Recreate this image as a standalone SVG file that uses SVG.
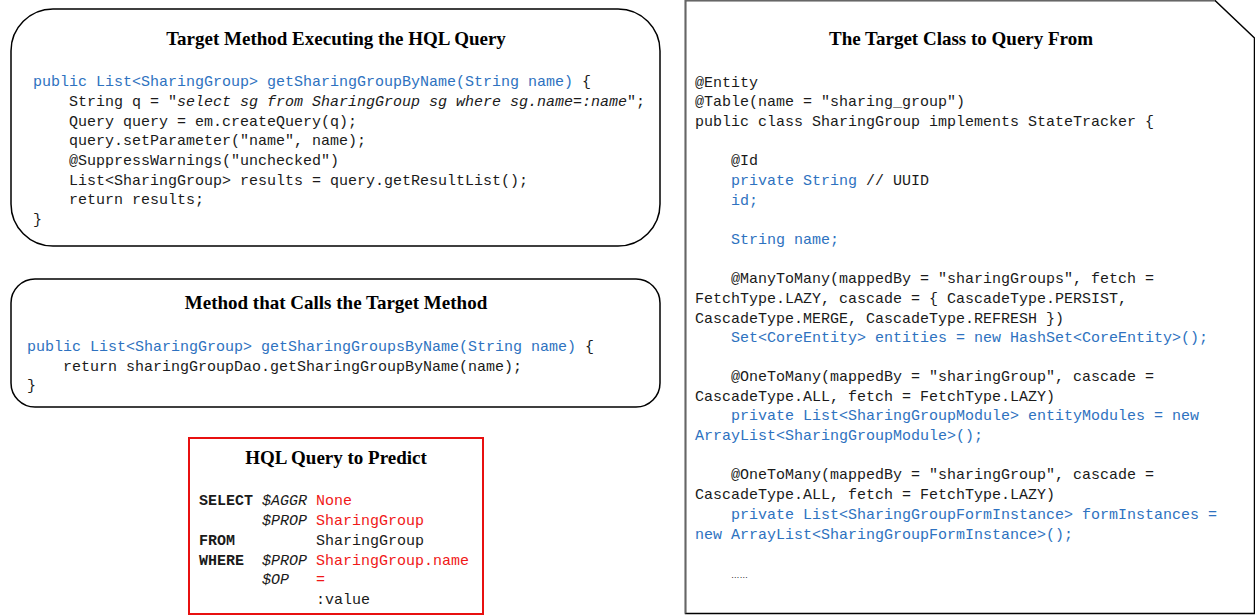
<svg xmlns="http://www.w3.org/2000/svg" width="1255" height="615" viewBox="0 0 1255 615">
<style>
.title{font-family:"Liberation Serif","Times New Roman",serif;font-weight:bold;font-size:19px;fill:#000;text-anchor:middle}
.code{font-family:"Liberation Mono","Courier New",monospace;font-size:15px;fill:#1a1a1a;white-space:pre}
.b{fill:#2e72c0}
.r{fill:#f01818}
.kw{font-weight:bold}
.it{font-style:italic}
.box{fill:#fff;stroke:#000;stroke-width:1.5}
</style>
<rect width="1255" height="615" fill="#fff"/>
<g id="target-method">
<rect class="box" x="11" y="9" width="649" height="237" rx="42" ry="42"/>
<text class="title" x="336" y="45">Target Method Executing the HQL Query</text>
<text class="code" xml:space="preserve" x="33" y="86"><tspan class="b">public List&lt;SharingGroup&gt; getSharingGroupByName(String name)</tspan> {</text>
<text class="code" xml:space="preserve" x="69" y="106">String q = "<tspan class="it">select sg from SharingGroup sg where sg.name=:name</tspan>";</text>
<text class="code" xml:space="preserve" x="69" y="125.5">Query query = em.createQuery(q);</text>
<text class="code" xml:space="preserve" x="69" y="145">query.setParameter("name", name);</text>
<text class="code" xml:space="preserve" x="69" y="165">@SuppressWarnings("unchecked")</text>
<text class="code" xml:space="preserve" x="69" y="185">List&lt;SharingGroup&gt; results = query.getResultList();</text>
<text class="code" xml:space="preserve" x="69" y="204">return results;</text>
<text class="code" xml:space="preserve" x="33" y="224">}</text>
</g>
<g id="calling-method">
<rect class="box" x="11" y="279" width="649" height="128" rx="24" ry="24"/>
<text class="title" x="336" y="309">Method that Calls the Target Method</text>
<text class="code" xml:space="preserve" x="27" y="351"><tspan class="b">public List&lt;SharingGroup&gt; getSharingGroupsByName(String name)</tspan> {</text>
<text class="code" xml:space="preserve" x="63" y="371">return sharingGroupDao.getSharingGroupByName(name);</text>
<text class="code" xml:space="preserve" x="27" y="390">}</text>
</g>
<g id="hql-query">
<rect x="189" y="438" width="294" height="176" fill="#fff" stroke="#e81010" stroke-width="2"/>
<text class="title" x="336" y="464">HQL Query to Predict</text>
<text class="code kw" x="199" y="505">SELECT</text>
<text class="code it" x="262" y="505">$AGGR</text>
<text class="code r" x="316" y="505">None</text>
<text class="code it" x="262" y="525">$PROP</text>
<text class="code r" x="316" y="525">SharingGroup</text>
<text class="code kw" x="199" y="545">FROM</text>
<text class="code" x="316" y="545">SharingGroup</text>
<text class="code kw" x="199" y="565">WHERE</text>
<text class="code it" x="262" y="565">$PROP</text>
<text class="code r" x="316" y="565">SharingGroup.name</text>
<text class="code it" x="262" y="584">$OP</text>
<text class="code r" x="316" y="584">=</text>
<text class="code" x="316" y="604">:value</text>
</g>
<g id="target-class">
<path d="M685.5,613.5 L685.5,0.5 L1215,0.5 L1254.5,38 L1254.5,613.5 Z" fill="#fff" stroke="#000" stroke-width="1.5"/>
<path d="M685.5,613.5 L685.5,0.5 L1215,0.5" fill="none" stroke="#666" stroke-width="1.5"/>
<text class="title" x="961" y="45">The Target Class to Query From</text>
<text class="code" xml:space="preserve" x="695" y="87">@Entity</text>
<text class="code" xml:space="preserve" x="695" y="106">@Table(name = "sharing_group")</text>
<text class="code" xml:space="preserve" x="695" y="126">public class SharingGroup implements StateTracker {</text>
<text class="code" xml:space="preserve" x="731" y="165">@Id</text>
<text class="code" xml:space="preserve" x="731" y="185"><tspan class="b">private String</tspan> // UUID</text>
<text class="code b" xml:space="preserve" x="731" y="205">id;</text>
<text class="code b" xml:space="preserve" x="731" y="244">String name;</text>
<text class="code" xml:space="preserve" x="731" y="283">@ManyToMany(mappedBy = "sharingGroups", fetch =</text>
<text class="code" xml:space="preserve" x="695" y="303">FetchType.LAZY, cascade = { CascadeType.PERSIST,</text>
<text class="code" xml:space="preserve" x="695" y="323">CascadeType.MERGE, CascadeType.REFRESH })</text>
<text class="code b" xml:space="preserve" x="731" y="342">Set&lt;CoreEntity&gt; entities = new HashSet&lt;CoreEntity&gt;();</text>
<text class="code" xml:space="preserve" x="731" y="381">@OneToMany(mappedBy = "sharingGroup", cascade =</text>
<text class="code" xml:space="preserve" x="695" y="401">CascadeType.ALL, fetch = FetchType.LAZY)</text>
<text class="code b" xml:space="preserve" x="731" y="420">private List&lt;SharingGroupModule&gt; entityModules = new</text>
<text class="code b" xml:space="preserve" x="695" y="440">ArrayList&lt;SharingGroupModule&gt;();</text>
<text class="code" xml:space="preserve" x="731" y="479">@OneToMany(mappedBy = "sharingGroup", cascade =</text>
<text class="code" xml:space="preserve" x="695" y="499">CascadeType.ALL, fetch = FetchType.LAZY)</text>
<text class="code b" xml:space="preserve" x="731" y="519">private List&lt;SharingGroupFormInstance&gt; formInstances =</text>
<text class="code b" xml:space="preserve" x="695" y="539">new ArrayList&lt;SharingGroupFormInstance&gt;();</text>
<text x="731" y="578" style="font-family:'Liberation Sans',Arial,sans-serif;font-size:8.5px;fill:#1a1a1a">……</text>
</g>
<g id="connectors"></g>
</svg>
